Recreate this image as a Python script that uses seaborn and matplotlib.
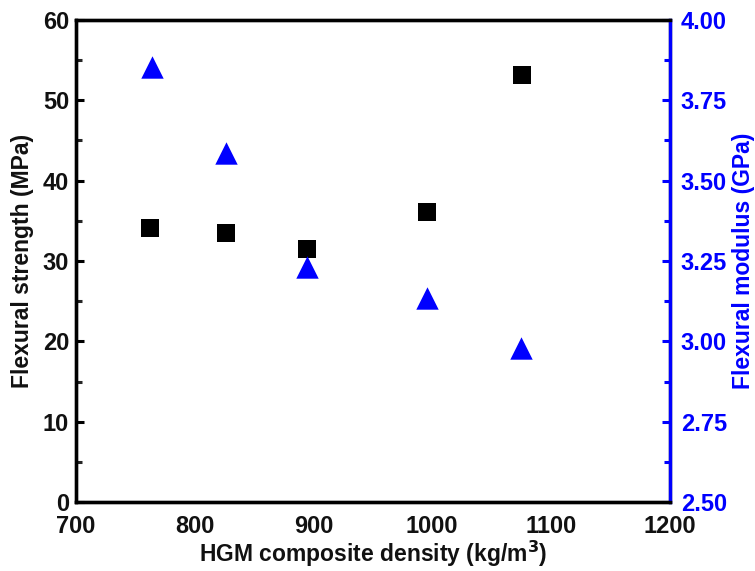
import matplotlib
matplotlib.use("Agg")
import matplotlib.pyplot as plt
from matplotlib.ticker import MultipleLocator, FormatStrFormatter
import seaborn as sns
import pandas as pd

density = [762, 826, 895, 996, 1076]
strength = [34.1, 33.5, 31.5, 36.1, 53.1]
density_mod = [764, 826, 895, 996, 1075]
modulus = [3.855, 3.585, 3.23, 3.135, 2.98]

sns.set_style("white")
plt.rcParams["font.family"] = ["Liberation Sans", "DejaVu Sans"]
plt.rcParams["font.weight"] = "bold"
plt.rcParams["text.color"] = "#111111"
plt.rcParams["axes.labelcolor"] = "#111111"

fig = plt.figure(figsize=(7.55, 5.71), dpi=100)
ax = fig.add_axes([0.1007, 0.1208, 0.7861, 0.8442])
ax2 = ax.twinx()

df_s = pd.DataFrame({"density": density, "strength": strength})
df_m = pd.DataFrame({"density": density_mod, "modulus": modulus})

sns.scatterplot(data=df_s, x="density", y="strength", ax=ax, marker="s",
                s=150, color="black", edgecolor="black", linewidth=0, zorder=3)
sns.scatterplot(data=df_m, x="density", y="modulus", ax=ax2, marker="^",
                s=260, color="#0000ff", edgecolor="#0000ff", linewidth=0, zorder=3)

ax.set_xlim(700, 1200)
ax.set_ylim(0, 60)
ax2.set_ylim(2.5, 4.0)

ax.xaxis.set_major_locator(MultipleLocator(100))
ax.xaxis.set_minor_locator(MultipleLocator(50))
ax.yaxis.set_major_locator(MultipleLocator(10))
ax.yaxis.set_minor_locator(MultipleLocator(5))
ax2.yaxis.set_major_locator(MultipleLocator(0.25))
ax2.yaxis.set_minor_locator(MultipleLocator(0.125))
ax2.yaxis.set_major_formatter(FormatStrFormatter("%.2f"))

lw = 2.4
for a in (ax, ax2):
    for sp in a.spines.values():
        sp.set_linewidth(lw)
        sp.set_color("black")
ax2.spines["right"].set_color("#0000ff")

ax.tick_params(axis="both", which="major", direction="in", length=6, width=2.2,
               labelsize=17, colors="black", labelcolor="#111111")
ax.tick_params(axis="x", which="major", pad=9)
ax.tick_params(axis="y", which="major", pad=5)
ax.tick_params(axis="both", which="minor", direction="in", length=4, width=2.2)
ax.tick_params(top=False, right=False, which="both")
ax2.tick_params(axis="y", which="major", direction="in", length=6, width=2.2,
                labelsize=17, colors="#0000ff", pad=8)
ax2.tick_params(axis="y", which="minor", direction="in", length=4, width=2.2,
                colors="#0000ff")

for lab in ax.get_xticklabels() + ax.get_yticklabels() + ax2.get_yticklabels():
    lab.set_fontweight("bold")

ax.set_xlabel("HGM composite density (kg/m$^\\mathbf{3}$)", fontsize=16.5,
              fontweight="bold", labelpad=1)
ax.set_ylabel("Flexural strength (MPa)", fontsize=16.5, fontweight="bold", labelpad=6)
ax2.set_ylabel("Flexural modulus (GPa)", fontsize=16.5, fontweight="bold",
               color="#0000ff", labelpad=4)

fig.savefig("out.png", dpi=100)
